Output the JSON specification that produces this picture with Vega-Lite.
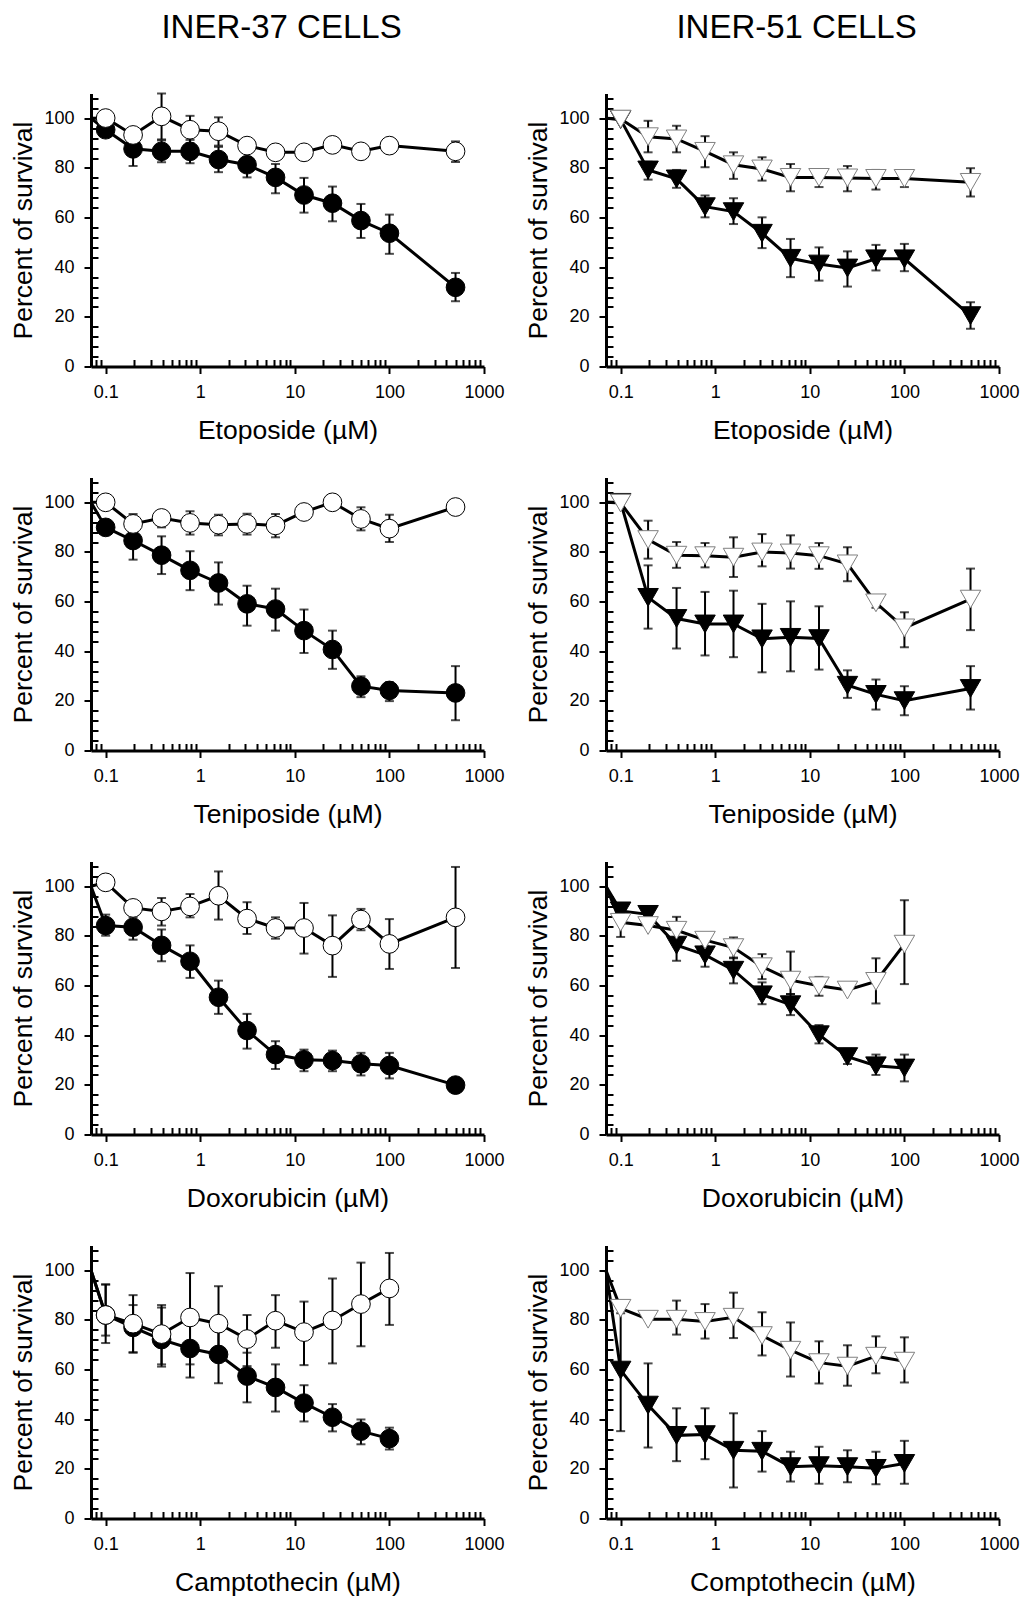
{
"$schema": "https://vega.github.io/schema/vega-lite/v6.json",
"background": "white",
"padding": {"left": 10, "top": 11.5, "right": 5, "bottom": 5},
"data": {"values": [
{"cell":"INER-37","drug":"Etoposide","series":"filled","dose":0.07,"survival":100},
{"cell":"INER-37","drug":"Etoposide","series":"filled","dose":0.1,"survival":95.4,"lo":93.5,"hi":97.3},
{"cell":"INER-37","drug":"Etoposide","series":"filled","dose":0.195,"survival":87.7,"lo":80.8,"hi":94.6},
{"cell":"INER-37","drug":"Etoposide","series":"filled","dose":0.39,"survival":86.7,"lo":82.3,"hi":91.1},
{"cell":"INER-37","drug":"Etoposide","series":"filled","dose":0.78,"survival":86.7,"lo":81.9,"hi":91.3},
{"cell":"INER-37","drug":"Etoposide","series":"filled","dose":1.56,"survival":83.4,"lo":78.3,"hi":88.5},
{"cell":"INER-37","drug":"Etoposide","series":"filled","dose":3.125,"survival":81.3,"lo":76.2,"hi":86.4},
{"cell":"INER-37","drug":"Etoposide","series":"filled","dose":6.25,"survival":76.2,"lo":69.8,"hi":81.6},
{"cell":"INER-37","drug":"Etoposide","series":"filled","dose":12.5,"survival":69.1,"lo":62,"hi":76},
{"cell":"INER-37","drug":"Etoposide","series":"filled","dose":25,"survival":65.8,"lo":58.5,"hi":72.5},
{"cell":"INER-37","drug":"Etoposide","series":"filled","dose":50,"survival":58.8,"lo":51.8,"hi":65.5},
{"cell":"INER-37","drug":"Etoposide","series":"filled","dose":100,"survival":53.7,"lo":45.4,"hi":61.2},
{"cell":"INER-37","drug":"Etoposide","series":"filled","dose":500,"survival":31.9,"lo":26.3,"hi":37.7},
{"cell":"INER-37","drug":"Etoposide","series":"open","dose":0.07,"survival":100},
{"cell":"INER-37","drug":"Etoposide","series":"open","dose":0.1,"survival":100.1,"lo":99,"hi":101},
{"cell":"INER-37","drug":"Etoposide","series":"open","dose":0.195,"survival":93.3,"lo":92,"hi":94.5},
{"cell":"INER-37","drug":"Etoposide","series":"open","dose":0.39,"survival":100.8,"lo":91.5,"hi":110},
{"cell":"INER-37","drug":"Etoposide","series":"open","dose":0.78,"survival":95.4,"lo":90,"hi":101},
{"cell":"INER-37","drug":"Etoposide","series":"open","dose":1.56,"survival":94.8,"lo":89,"hi":100.4},
{"cell":"INER-37","drug":"Etoposide","series":"open","dose":3.125,"survival":89,"lo":88,"hi":90},
{"cell":"INER-37","drug":"Etoposide","series":"open","dose":6.25,"survival":86.3,"lo":85.5,"hi":87},
{"cell":"INER-37","drug":"Etoposide","series":"open","dose":12.5,"survival":86.3,"lo":85.5,"hi":87},
{"cell":"INER-37","drug":"Etoposide","series":"open","dose":25,"survival":89.3,"lo":88.5,"hi":90},
{"cell":"INER-37","drug":"Etoposide","series":"open","dose":50,"survival":86.7,"lo":86,"hi":87.5},
{"cell":"INER-37","drug":"Etoposide","series":"open","dose":100,"survival":89,"lo":88,"hi":90},
{"cell":"INER-37","drug":"Etoposide","series":"open","dose":500,"survival":86.7,"lo":82.4,"hi":90.7},

{"cell":"INER-51","drug":"Etoposide","series":"filled","dose":0.07,"survival":100},
{"cell":"INER-51","drug":"Etoposide","series":"filled","dose":0.1,"survival":99.5},
{"cell":"INER-51","drug":"Etoposide","series":"filled","dose":0.195,"survival":79.2,"lo":75.3,"hi":82.5},
{"cell":"INER-51","drug":"Etoposide","series":"filled","dose":0.39,"survival":75.6,"lo":72,"hi":79.2},
{"cell":"INER-51","drug":"Etoposide","series":"filled","dose":0.78,"survival":64.4,"lo":60.1,"hi":68.9},
{"cell":"INER-51","drug":"Etoposide","series":"filled","dose":1.56,"survival":62.4,"lo":57.4,"hi":67.8},
{"cell":"INER-51","drug":"Etoposide","series":"filled","dose":3.125,"survival":53.7,"lo":47.7,"hi":60.1},
{"cell":"INER-51","drug":"Etoposide","series":"filled","dose":6.25,"survival":43.6,"lo":36,"hi":51.4},
{"cell":"INER-51","drug":"Etoposide","series":"filled","dose":12.5,"survival":41.3,"lo":34.6,"hi":48},
{"cell":"INER-51","drug":"Etoposide","series":"filled","dose":25,"survival":39.7,"lo":32.2,"hi":46.4},
{"cell":"INER-51","drug":"Etoposide","series":"filled","dose":50,"survival":43.4,"lo":38.7,"hi":49},
{"cell":"INER-51","drug":"Etoposide","series":"filled","dose":100,"survival":43.4,"lo":38.4,"hi":49.4},
{"cell":"INER-51","drug":"Etoposide","series":"filled","dose":500,"survival":20.5,"lo":15.2,"hi":25.9},
{"cell":"INER-51","drug":"Etoposide","series":"open","dose":0.07,"survival":100},
{"cell":"INER-51","drug":"Etoposide","series":"open","dose":0.1,"survival":99.7},
{"cell":"INER-51","drug":"Etoposide","series":"open","dose":0.195,"survival":92.6,"lo":86.3,"hi":99},
{"cell":"INER-51","drug":"Etoposide","series":"open","dose":0.39,"survival":91.7,"lo":86.3,"hi":97},
{"cell":"INER-51","drug":"Etoposide","series":"open","dose":0.78,"survival":86.7,"lo":80.3,"hi":92.8},
{"cell":"INER-51","drug":"Etoposide","series":"open","dose":1.56,"survival":81.3,"lo":75.6,"hi":86.3},
{"cell":"INER-51","drug":"Etoposide","series":"open","dose":3.125,"survival":79.6,"lo":74.9,"hi":84.3},
{"cell":"INER-51","drug":"Etoposide","series":"open","dose":6.25,"survival":76.2,"lo":70.6,"hi":81.6},
{"cell":"INER-51","drug":"Etoposide","series":"open","dose":12.5,"survival":76.2,"lo":72.3,"hi":79.5},
{"cell":"INER-51","drug":"Etoposide","series":"open","dose":25,"survival":76,"lo":70.6,"hi":80.8},
{"cell":"INER-51","drug":"Etoposide","series":"open","dose":50,"survival":75.8,"lo":71.3,"hi":79.2},
{"cell":"INER-51","drug":"Etoposide","series":"open","dose":100,"survival":75.8,"lo":72.3,"hi":78.1},
{"cell":"INER-51","drug":"Etoposide","series":"open","dose":500,"survival":74.2,"lo":68.5,"hi":79.9},

{"cell":"INER-37","drug":"Teniposide","series":"filled","dose":0.07,"survival":100},
{"cell":"INER-37","drug":"Teniposide","series":"filled","dose":0.1,"survival":89.9,"lo":88,"hi":92},
{"cell":"INER-37","drug":"Teniposide","series":"filled","dose":0.195,"survival":84.6,"lo":76.9,"hi":92},
{"cell":"INER-37","drug":"Teniposide","series":"filled","dose":0.39,"survival":78.7,"lo":71.1,"hi":86.3},
{"cell":"INER-37","drug":"Teniposide","series":"filled","dose":0.78,"survival":72.6,"lo":64.6,"hi":80.3},
{"cell":"INER-37","drug":"Teniposide","series":"filled","dose":1.56,"survival":67.5,"lo":58.8,"hi":75.8},
{"cell":"INER-37","drug":"Teniposide","series":"filled","dose":3.125,"survival":59.1,"lo":50.3,"hi":66.4},
{"cell":"INER-37","drug":"Teniposide","series":"filled","dose":6.25,"survival":57,"lo":48.3,"hi":65.2},
{"cell":"INER-37","drug":"Teniposide","series":"filled","dose":12.5,"survival":48.3,"lo":39.3,"hi":56.8},
{"cell":"INER-37","drug":"Teniposide","series":"filled","dose":25,"survival":40.7,"lo":32.9,"hi":48.3},
{"cell":"INER-37","drug":"Teniposide","series":"filled","dose":50,"survival":25.9,"lo":21.5,"hi":29.9},
{"cell":"INER-37","drug":"Teniposide","series":"filled","dose":100,"survival":24.2,"lo":19.9,"hi":27.5},
{"cell":"INER-37","drug":"Teniposide","series":"filled","dose":500,"survival":23.2,"lo":12.2,"hi":34},
{"cell":"INER-37","drug":"Teniposide","series":"open","dose":0.07,"survival":100},
{"cell":"INER-37","drug":"Teniposide","series":"open","dose":0.1,"survival":100},
{"cell":"INER-37","drug":"Teniposide","series":"open","dose":0.195,"survival":91.3,"lo":87,"hi":95.3},
{"cell":"INER-37","drug":"Teniposide","series":"open","dose":0.39,"survival":93.7,"lo":89.9,"hi":96.4},
{"cell":"INER-37","drug":"Teniposide","series":"open","dose":0.78,"survival":91.7,"lo":87,"hi":96.4},
{"cell":"INER-37","drug":"Teniposide","series":"open","dose":1.56,"survival":91,"lo":86.7,"hi":95},
{"cell":"INER-37","drug":"Teniposide","series":"open","dose":3.125,"survival":91.3,"lo":87,"hi":95.4},
{"cell":"INER-37","drug":"Teniposide","series":"open","dose":6.25,"survival":90.7,"lo":85.9,"hi":95.3},
{"cell":"INER-37","drug":"Teniposide","series":"open","dose":12.5,"survival":96.1},
{"cell":"INER-37","drug":"Teniposide","series":"open","dose":25,"survival":100},
{"cell":"INER-37","drug":"Teniposide","series":"open","dose":50,"survival":93.3,"lo":88.7,"hi":98},
{"cell":"INER-37","drug":"Teniposide","series":"open","dose":100,"survival":89.4,"lo":84,"hi":95},
{"cell":"INER-37","drug":"Teniposide","series":"open","dose":500,"survival":98.1},

{"cell":"INER-51","drug":"Teniposide","series":"filled","dose":0.07,"survival":100},
{"cell":"INER-51","drug":"Teniposide","series":"filled","dose":0.1,"survival":100},
{"cell":"INER-51","drug":"Teniposide","series":"filled","dose":0.195,"survival":61.7,"lo":49.1,"hi":74.6},
{"cell":"INER-51","drug":"Teniposide","series":"filled","dose":0.39,"survival":53.2,"lo":41.1,"hi":65.5},
{"cell":"INER-51","drug":"Teniposide","series":"filled","dose":0.78,"survival":51,"lo":38.3,"hi":63.9},
{"cell":"INER-51","drug":"Teniposide","series":"filled","dose":1.56,"survival":51,"lo":37.6,"hi":64.4},
{"cell":"INER-51","drug":"Teniposide","series":"filled","dose":3.125,"survival":45,"lo":31.5,"hi":59.1},
{"cell":"INER-51","drug":"Teniposide","series":"filled","dose":6.25,"survival":45.6,"lo":31.9,"hi":60.1},
{"cell":"INER-51","drug":"Teniposide","series":"filled","dose":12.5,"survival":45.1,"lo":32.6,"hi":58.1},
{"cell":"INER-51","drug":"Teniposide","series":"filled","dose":25,"survival":26.3,"lo":21.2,"hi":32.3},
{"cell":"INER-51","drug":"Teniposide","series":"filled","dose":50,"survival":22.6,"lo":16.5,"hi":28.6},
{"cell":"INER-51","drug":"Teniposide","series":"filled","dose":100,"survival":20.1,"lo":14.2,"hi":25.9},
{"cell":"INER-51","drug":"Teniposide","series":"filled","dose":500,"survival":25,"lo":16.5,"hi":34},
{"cell":"INER-51","drug":"Teniposide","series":"open","dose":0.07,"survival":100},
{"cell":"INER-51","drug":"Teniposide","series":"open","dose":0.1,"survival":99.7},
{"cell":"INER-51","drug":"Teniposide","series":"open","dose":0.195,"survival":85,"lo":77.3,"hi":92.6},
{"cell":"INER-51","drug":"Teniposide","series":"open","dose":0.39,"survival":78.7,"lo":73.6,"hi":84},
{"cell":"INER-51","drug":"Teniposide","series":"open","dose":0.78,"survival":78.5,"lo":73.8,"hi":83.6},
{"cell":"INER-51","drug":"Teniposide","series":"open","dose":1.56,"survival":77.9,"lo":69.9,"hi":85.9},
{"cell":"INER-51","drug":"Teniposide","series":"open","dose":3.125,"survival":80,"lo":74.2,"hi":87.2},
{"cell":"INER-51","drug":"Teniposide","series":"open","dose":6.25,"survival":79.6,"lo":73.3,"hi":86.7},
{"cell":"INER-51","drug":"Teniposide","series":"open","dose":12.5,"survival":78.5,"lo":73.2,"hi":83.6},
{"cell":"INER-51","drug":"Teniposide","series":"open","dose":25,"survival":75.2,"lo":68.2,"hi":81.9},
{"cell":"INER-51","drug":"Teniposide","series":"open","dose":50,"survival":59.5,"lo":57.5,"hi":61.7},
{"cell":"INER-51","drug":"Teniposide","series":"open","dose":100,"survival":49.4,"lo":41.6,"hi":55.7},
{"cell":"INER-51","drug":"Teniposide","series":"open","dose":500,"survival":61,"lo":48.5,"hi":73.3},

{"cell":"INER-37","drug":"Doxorubicin","series":"filled","dose":0.07,"survival":100},
{"cell":"INER-37","drug":"Doxorubicin","series":"filled","dose":0.1,"survival":84.2,"lo":80.1,"hi":88.6},
{"cell":"INER-37","drug":"Doxorubicin","series":"filled","dose":0.195,"survival":83.5,"lo":78.5,"hi":87.5},
{"cell":"INER-37","drug":"Doxorubicin","series":"filled","dose":0.39,"survival":76.2,"lo":69.8,"hi":82.6},
{"cell":"INER-37","drug":"Doxorubicin","series":"filled","dose":0.78,"survival":69.8,"lo":63.1,"hi":76.2},
{"cell":"INER-37","drug":"Doxorubicin","series":"filled","dose":1.56,"survival":55.3,"lo":48.6,"hi":62},
{"cell":"INER-37","drug":"Doxorubicin","series":"filled","dose":3.125,"survival":41.9,"lo":34.6,"hi":48.6},
{"cell":"INER-37","drug":"Doxorubicin","series":"filled","dose":6.25,"survival":32.2,"lo":26.4,"hi":37.6},
{"cell":"INER-37","drug":"Doxorubicin","series":"filled","dose":12.5,"survival":30.1,"lo":25.5,"hi":34.2},
{"cell":"INER-37","drug":"Doxorubicin","series":"filled","dose":25,"survival":29.8,"lo":25.5,"hi":33.8},
{"cell":"INER-37","drug":"Doxorubicin","series":"filled","dose":50,"survival":28.5,"lo":23.8,"hi":32.9},
{"cell":"INER-37","drug":"Doxorubicin","series":"filled","dose":100,"survival":27.8,"lo":22.6,"hi":32.9},
{"cell":"INER-37","drug":"Doxorubicin","series":"filled","dose":500,"survival":19.9},
{"cell":"INER-37","drug":"Doxorubicin","series":"open","dose":0.07,"survival":100},
{"cell":"INER-37","drug":"Doxorubicin","series":"open","dose":0.1,"survival":101.6},
{"cell":"INER-37","drug":"Doxorubicin","series":"open","dose":0.195,"survival":91.3},
{"cell":"INER-37","drug":"Doxorubicin","series":"open","dose":0.39,"survival":89.9,"lo":84.2,"hi":95.3},
{"cell":"INER-37","drug":"Doxorubicin","series":"open","dose":0.78,"survival":91.9,"lo":87.5,"hi":96.9},
{"cell":"INER-37","drug":"Doxorubicin","series":"open","dose":1.56,"survival":96.2,"lo":86.6,"hi":106},
{"cell":"INER-37","drug":"Doxorubicin","series":"open","dose":3.125,"survival":87,"lo":80.8,"hi":93.6},
{"cell":"INER-37","drug":"Doxorubicin","series":"open","dose":6.25,"survival":83.2,"lo":78.9,"hi":87.5},
{"cell":"INER-37","drug":"Doxorubicin","series":"open","dose":12.5,"survival":83.2,"lo":72.9,"hi":93.3},
{"cell":"INER-37","drug":"Doxorubicin","series":"open","dose":25,"survival":76.1,"lo":63.5,"hi":88.3},
{"cell":"INER-37","drug":"Doxorubicin","series":"open","dose":50,"survival":86.6,"lo":82.3,"hi":90.9},
{"cell":"INER-37","drug":"Doxorubicin","series":"open","dose":100,"survival":76.8,"lo":66.7,"hi":86.8},
{"cell":"INER-37","drug":"Doxorubicin","series":"open","dose":500,"survival":87.5,"lo":67.1,"hi":107.8},

{"cell":"INER-51","drug":"Doxorubicin","series":"filled","dose":0.07,"survival":100},
{"cell":"INER-51","drug":"Doxorubicin","series":"filled","dose":0.1,"survival":90.1,"lo":88.5,"hi":91.7},
{"cell":"INER-51","drug":"Doxorubicin","series":"filled","dose":0.195,"survival":88.7,"lo":86,"hi":91.4},
{"cell":"INER-51","drug":"Doxorubicin","series":"filled","dose":0.39,"survival":76.3,"lo":70,"hi":83.4},
{"cell":"INER-51","drug":"Doxorubicin","series":"filled","dose":0.78,"survival":72.4,"lo":67.6,"hi":76},
{"cell":"INER-51","drug":"Doxorubicin","series":"filled","dose":1.56,"survival":66.2,"lo":60.9,"hi":71.3},
{"cell":"INER-51","drug":"Doxorubicin","series":"filled","dose":3.125,"survival":56.3,"lo":52.5,"hi":61.3},
{"cell":"INER-51","drug":"Doxorubicin","series":"filled","dose":6.25,"survival":52.3,"lo":48.1,"hi":56.6},
{"cell":"INER-51","drug":"Doxorubicin","series":"filled","dose":12.5,"survival":40.2,"lo":36.7,"hi":44.1},
{"cell":"INER-51","drug":"Doxorubicin","series":"filled","dose":25,"survival":31.4,"lo":28.4,"hi":34.5},
{"cell":"INER-51","drug":"Doxorubicin","series":"filled","dose":50,"survival":27.7,"lo":24,"hi":32.2},
{"cell":"INER-51","drug":"Doxorubicin","series":"filled","dose":100,"survival":26.8,"lo":21.4,"hi":32.2},
{"cell":"INER-51","drug":"Doxorubicin","series":"open","dose":0.07,"survival":100},
{"cell":"INER-51","drug":"Doxorubicin","series":"open","dose":0.1,"survival":85.5,"lo":79.6,"hi":91},
{"cell":"INER-51","drug":"Doxorubicin","series":"open","dose":0.195,"survival":84.2},
{"cell":"INER-51","drug":"Doxorubicin","series":"open","dose":0.39,"survival":82.3,"lo":77,"hi":87.7},
{"cell":"INER-51","drug":"Doxorubicin","series":"open","dose":0.78,"survival":78.3},
{"cell":"INER-51","drug":"Doxorubicin","series":"open","dose":1.56,"survival":75.3,"lo":71,"hi":79.4},
{"cell":"INER-51","drug":"Doxorubicin","series":"open","dose":3.125,"survival":67.6,"lo":62.6,"hi":72.7},
{"cell":"INER-51","drug":"Doxorubicin","series":"open","dose":6.25,"survival":62.2,"lo":56.6,"hi":73.7},
{"cell":"INER-51","drug":"Doxorubicin","series":"open","dose":12.5,"survival":59.9,"lo":55.9,"hi":63.5},
{"cell":"INER-51","drug":"Doxorubicin","series":"open","dose":25,"survival":58.2},
{"cell":"INER-51","drug":"Doxorubicin","series":"open","dose":50,"survival":61.7,"lo":52.8,"hi":71},
{"cell":"INER-51","drug":"Doxorubicin","series":"open","dose":100,"survival":76.7,"lo":60.6,"hi":94.4},

{"cell":"INER-37","drug":"Camptothecin","series":"filled","dose":0.07,"survival":100},
{"cell":"INER-37","drug":"Camptothecin","series":"filled","dose":0.1,"survival":82,"lo":70.7,"hi":94.3},
{"cell":"INER-37","drug":"Camptothecin","series":"filled","dose":0.195,"survival":77,"lo":67,"hi":86},
{"cell":"INER-37","drug":"Camptothecin","series":"filled","dose":0.39,"survival":72.1,"lo":61.2,"hi":85},
{"cell":"INER-37","drug":"Camptothecin","series":"filled","dose":0.78,"survival":68.5,"lo":56.8,"hi":80},
{"cell":"INER-37","drug":"Camptothecin","series":"filled","dose":1.56,"survival":66.1,"lo":54.5,"hi":76},
{"cell":"INER-37","drug":"Camptothecin","series":"filled","dose":3.125,"survival":57.4,"lo":46.8,"hi":66.8},
{"cell":"INER-37","drug":"Camptothecin","series":"filled","dose":6.25,"survival":52.8,"lo":43.1,"hi":62.1},
{"cell":"INER-37","drug":"Camptothecin","series":"filled","dose":12.5,"survival":46.5,"lo":39.1,"hi":53.7},
{"cell":"INER-37","drug":"Camptothecin","series":"filled","dose":25,"survival":40.8,"lo":35.1,"hi":46.1},
{"cell":"INER-37","drug":"Camptothecin","series":"filled","dose":50,"survival":35.2,"lo":29.9,"hi":39.9},
{"cell":"INER-37","drug":"Camptothecin","series":"filled","dose":100,"survival":32.2,"lo":27.8,"hi":36.6},
{"cell":"INER-37","drug":"Camptothecin","series":"open","dose":0.07,"survival":100},
{"cell":"INER-37","drug":"Camptothecin","series":"open","dose":0.1,"survival":82,"lo":73.7,"hi":94.3},
{"cell":"INER-37","drug":"Camptothecin","series":"open","dose":0.195,"survival":78.5,"lo":66.8,"hi":90},
{"cell":"INER-37","drug":"Camptothecin","series":"open","dose":0.39,"survival":74.3,"lo":62.1,"hi":86},
{"cell":"INER-37","drug":"Camptothecin","series":"open","dose":0.78,"survival":81,"lo":62.1,"hi":98.9},
{"cell":"INER-37","drug":"Camptothecin","series":"open","dose":1.56,"survival":78.5,"lo":63.4,"hi":93.6},
{"cell":"INER-37","drug":"Camptothecin","series":"open","dose":3.125,"survival":72.3,"lo":61.4,"hi":82},
{"cell":"INER-37","drug":"Camptothecin","series":"open","dose":6.25,"survival":79.7,"lo":68.8,"hi":90},
{"cell":"INER-37","drug":"Camptothecin","series":"open","dose":12.5,"survival":75.1,"lo":61.8,"hi":87.4},
{"cell":"INER-37","drug":"Camptothecin","series":"open","dose":25,"survival":79.8,"lo":62.5,"hi":96.7},
{"cell":"INER-37","drug":"Camptothecin","series":"open","dose":50,"survival":86.4,"lo":69.4,"hi":103.1},
{"cell":"INER-37","drug":"Camptothecin","series":"open","dose":100,"survival":92.7,"lo":78,"hi":107},

{"cell":"INER-51","drug":"Comptothecin","series":"filled","dose":0.07,"survival":100},
{"cell":"INER-51","drug":"Comptothecin","series":"filled","dose":0.1,"survival":59.8,"lo":35.2,"hi":84.4},
{"cell":"INER-51","drug":"Comptothecin","series":"filled","dose":0.195,"survival":45.7,"lo":28.6,"hi":62.5},
{"cell":"INER-51","drug":"Comptothecin","series":"filled","dose":0.39,"survival":33.5,"lo":23.1,"hi":44.4},
{"cell":"INER-51","drug":"Comptothecin","series":"filled","dose":0.78,"survival":33.8,"lo":23.9,"hi":44.4},
{"cell":"INER-51","drug":"Comptothecin","series":"filled","dose":1.56,"survival":27.5,"lo":12.5,"hi":42.4},
{"cell":"INER-51","drug":"Comptothecin","series":"filled","dose":3.125,"survival":27.1,"lo":18.9,"hi":35.2},
{"cell":"INER-51","drug":"Comptothecin","series":"filled","dose":6.25,"survival":20.9,"lo":14.9,"hi":26.9},
{"cell":"INER-51","drug":"Comptothecin","series":"filled","dose":12.5,"survival":21.3,"lo":14,"hi":28.9},
{"cell":"INER-51","drug":"Comptothecin","series":"filled","dose":25,"survival":20.9,"lo":14.6,"hi":27.5},
{"cell":"INER-51","drug":"Comptothecin","series":"filled","dose":50,"survival":20.2,"lo":13.8,"hi":26.9},
{"cell":"INER-51","drug":"Comptothecin","series":"filled","dose":100,"survival":22.2,"lo":14,"hi":31.3},
{"cell":"INER-51","drug":"Comptothecin","series":"open","dose":0.07,"survival":100},
{"cell":"INER-51","drug":"Comptothecin","series":"open","dose":0.1,"survival":84.7,"lo":82.7,"hi":86.7},
{"cell":"INER-51","drug":"Comptothecin","series":"open","dose":0.195,"survival":80.3},
{"cell":"INER-51","drug":"Comptothecin","series":"open","dose":0.39,"survival":80.3,"lo":74.1,"hi":87.8},
{"cell":"INER-51","drug":"Comptothecin","series":"open","dose":0.78,"survival":79.4,"lo":72.5,"hi":86.4},
{"cell":"INER-51","drug":"Comptothecin","series":"open","dose":1.56,"survival":81.1,"lo":72.7,"hi":91},
{"cell":"INER-51","drug":"Comptothecin","series":"open","dose":3.125,"survival":73.7,"lo":65.7,"hi":83.1},
{"cell":"INER-51","drug":"Comptothecin","series":"open","dose":6.25,"survival":67.8,"lo":57.2,"hi":79},
{"cell":"INER-51","drug":"Comptothecin","series":"open","dose":12.5,"survival":62.8,"lo":54.4,"hi":71.4},
{"cell":"INER-51","drug":"Comptothecin","series":"open","dose":25,"survival":61.4,"lo":53.5,"hi":69.8},
{"cell":"INER-51","drug":"Comptothecin","series":"open","dose":50,"survival":65.4,"lo":58.5,"hi":73.4},
{"cell":"INER-51","drug":"Comptothecin","series":"open","dose":100,"survival":63.4,"lo":54.8,"hi":73}
]},
"columns": 2,
"spacing": {"row": 28, "column": 20},
"resolve": {"scale": {"x": "independent", "y": "independent", "fill": "independent", "stroke": "independent"}},
"concat": [
{"width": 393, "height": 273,
 "title": {"text": "INER-37 CELLS", "dx": -6},
 "transform": [{"filter": "datum.cell == 'INER-37' && datum.drug == 'Etoposide'"}],
 "encoding": {
  "x": {"field": "dose", "type": "quantitative", "scale": {"type": "log", "domain": [0.07, 1000], "nice": false},
   "axis": {"title": "Etoposide (µM)", "values": [0.08,0.09,0.1,0.2,0.3,0.4,0.5,0.6,0.7,0.8,0.9,1,2,3,4,5,6,7,8,9,10,20,30,40,50,60,70,80,90,100,200,300,400,500,600,700,800,900,1000], "labelExpr": "abs(log(datum.value)/LN10 - round(log(datum.value)/LN10)) < 0.001 ? toString(datum.value) : ''", "tickSize": {"condition": {"test": "abs(log(datum.value)/LN10 - round(log(datum.value)/LN10)) < 0.001", "value": 7}, "value": -7}}},
  "y": {"field": "survival", "type": "quantitative", "scale": {"domain": [0, 110], "nice": false},
   "axis": {"title": "Percent of survival", "values": [0,4,8,12,16,20,24,28,32,36,40,44,48,52,56,60,64,68,72,76,80,84,88,92,96,100,104,108], "labelExpr": "datum.value % 20 == 0 ? datum.label : ''", "tickSize": {"condition": {"test": "datum.value % 20 == 0", "value": 7}, "value": -7}}}},
 "layer": [
  {"mark": {"type": "line", "color": "black", "strokeWidth": 3}, "encoding": {"detail": {"field": "series"}}},
  {"transform": [{"filter": "isValid(datum.lo)"}],
   "mark": {"type": "errorbar", "color": "black", "thickness": 2, "ticks": {"size": 9, "thickness": 2}},
   "encoding": {"y": {"field": "lo", "type": "quantitative", "scale": {"domain": [0, 110], "nice": false},
     "axis": {"title": "Percent of survival", "values": [0,4,8,12,16,20,24,28,32,36,40,44,48,52,56,60,64,68,72,76,80,84,88,92,96,100,104,108], "labelExpr": "datum.value % 20 == 0 ? datum.label : ''", "tickSize": {"condition": {"test": "datum.value % 20 == 0", "value": 7}, "value": -7}}},
     "y2": {"field": "hi"}}},
  {"transform": [{"filter": "datum.dose >= 0.1"}], "mark": {"type": "point", "shape": "circle", "size": 350, "filled": true, "opacity": 1, "strokeWidth": 1},
   "encoding": {
     "fill": {"field": "series", "type": "nominal", "scale": {"domain": ["filled", "open"], "range": ["#000000", "#ffffff"]}, "legend": null},
     "stroke": {"field": "series", "type": "nominal", "scale": {"domain": ["filled", "open"], "range": ["#000000", "#000000"]}, "legend": null}}}
 ]},
{"width": 393, "height": 273,
 "title": {"text": "INER-51 CELLS", "dx": -6},
 "transform": [{"filter": "datum.cell == 'INER-51' && datum.drug == 'Etoposide'"}],
 "encoding": {
  "x": {"field": "dose", "type": "quantitative", "scale": {"type": "log", "domain": [0.07, 1000], "nice": false},
   "axis": {"title": "Etoposide (µM)", "values": [0.08,0.09,0.1,0.2,0.3,0.4,0.5,0.6,0.7,0.8,0.9,1,2,3,4,5,6,7,8,9,10,20,30,40,50,60,70,80,90,100,200,300,400,500,600,700,800,900,1000], "labelExpr": "abs(log(datum.value)/LN10 - round(log(datum.value)/LN10)) < 0.001 ? toString(datum.value) : ''", "tickSize": {"condition": {"test": "abs(log(datum.value)/LN10 - round(log(datum.value)/LN10)) < 0.001", "value": 7}, "value": -7}}},
  "y": {"field": "survival", "type": "quantitative", "scale": {"domain": [0, 110], "nice": false},
   "axis": {"title": "Percent of survival", "values": [0,4,8,12,16,20,24,28,32,36,40,44,48,52,56,60,64,68,72,76,80,84,88,92,96,100,104,108], "labelExpr": "datum.value % 20 == 0 ? datum.label : ''", "tickSize": {"condition": {"test": "datum.value % 20 == 0", "value": 7}, "value": -7}}}},
 "layer": [
  {"mark": {"type": "line", "color": "black", "strokeWidth": 3}, "encoding": {"detail": {"field": "series"}}},
  {"transform": [{"filter": "isValid(datum.lo)"}],
   "mark": {"type": "errorbar", "color": "black", "thickness": 2, "ticks": {"size": 9, "thickness": 2}},
   "encoding": {"y": {"field": "lo", "type": "quantitative", "scale": {"domain": [0, 110], "nice": false},
     "axis": {"title": "Percent of survival", "values": [0,4,8,12,16,20,24,28,32,36,40,44,48,52,56,60,64,68,72,76,80,84,88,92,96,100,104,108], "labelExpr": "datum.value % 20 == 0 ? datum.label : ''", "tickSize": {"condition": {"test": "datum.value % 20 == 0", "value": 7}, "value": -7}}},
     "y2": {"field": "hi"}}},
  {"transform": [{"filter": "datum.dose >= 0.1"}], "mark": {"type": "point", "shape": "triangle-down", "size": 420, "filled": true, "opacity": 1, "strokeWidth": 1},
   "encoding": {
     "fill": {"field": "series", "type": "nominal", "scale": {"domain": ["filled", "open"], "range": ["#000000", "#ffffff"]}, "legend": null},
     "stroke": {"field": "series", "type": "nominal", "scale": {"domain": ["filled", "open"], "range": ["#000000", "#808080"]}, "legend": null}}}
 ]},
{"width": 393, "height": 273,
 "transform": [{"filter": "datum.cell == 'INER-37' && datum.drug == 'Teniposide'"}],
 "encoding": {
  "x": {"field": "dose", "type": "quantitative", "scale": {"type": "log", "domain": [0.07, 1000], "nice": false},
   "axis": {"title": "Teniposide (µM)", "values": [0.08,0.09,0.1,0.2,0.3,0.4,0.5,0.6,0.7,0.8,0.9,1,2,3,4,5,6,7,8,9,10,20,30,40,50,60,70,80,90,100,200,300,400,500,600,700,800,900,1000], "labelExpr": "abs(log(datum.value)/LN10 - round(log(datum.value)/LN10)) < 0.001 ? toString(datum.value) : ''", "tickSize": {"condition": {"test": "abs(log(datum.value)/LN10 - round(log(datum.value)/LN10)) < 0.001", "value": 7}, "value": -7}}},
  "y": {"field": "survival", "type": "quantitative", "scale": {"domain": [0, 110], "nice": false},
   "axis": {"title": "Percent of survival", "values": [0,4,8,12,16,20,24,28,32,36,40,44,48,52,56,60,64,68,72,76,80,84,88,92,96,100,104,108], "labelExpr": "datum.value % 20 == 0 ? datum.label : ''", "tickSize": {"condition": {"test": "datum.value % 20 == 0", "value": 7}, "value": -7}}}},
 "layer": [
  {"mark": {"type": "line", "color": "black", "strokeWidth": 3}, "encoding": {"detail": {"field": "series"}}},
  {"transform": [{"filter": "isValid(datum.lo)"}],
   "mark": {"type": "errorbar", "color": "black", "thickness": 2, "ticks": {"size": 9, "thickness": 2}},
   "encoding": {"y": {"field": "lo", "type": "quantitative", "scale": {"domain": [0, 110], "nice": false},
     "axis": {"title": "Percent of survival", "values": [0,4,8,12,16,20,24,28,32,36,40,44,48,52,56,60,64,68,72,76,80,84,88,92,96,100,104,108], "labelExpr": "datum.value % 20 == 0 ? datum.label : ''", "tickSize": {"condition": {"test": "datum.value % 20 == 0", "value": 7}, "value": -7}}},
     "y2": {"field": "hi"}}},
  {"transform": [{"filter": "datum.dose >= 0.1"}], "mark": {"type": "point", "shape": "circle", "size": 350, "filled": true, "opacity": 1, "strokeWidth": 1},
   "encoding": {
     "fill": {"field": "series", "type": "nominal", "scale": {"domain": ["filled", "open"], "range": ["#000000", "#ffffff"]}, "legend": null},
     "stroke": {"field": "series", "type": "nominal", "scale": {"domain": ["filled", "open"], "range": ["#000000", "#000000"]}, "legend": null}}}
 ]},
{"width": 393, "height": 273,
 "transform": [{"filter": "datum.cell == 'INER-51' && datum.drug == 'Teniposide'"}],
 "encoding": {
  "x": {"field": "dose", "type": "quantitative", "scale": {"type": "log", "domain": [0.07, 1000], "nice": false},
   "axis": {"title": "Teniposide (µM)", "values": [0.08,0.09,0.1,0.2,0.3,0.4,0.5,0.6,0.7,0.8,0.9,1,2,3,4,5,6,7,8,9,10,20,30,40,50,60,70,80,90,100,200,300,400,500,600,700,800,900,1000], "labelExpr": "abs(log(datum.value)/LN10 - round(log(datum.value)/LN10)) < 0.001 ? toString(datum.value) : ''", "tickSize": {"condition": {"test": "abs(log(datum.value)/LN10 - round(log(datum.value)/LN10)) < 0.001", "value": 7}, "value": -7}}},
  "y": {"field": "survival", "type": "quantitative", "scale": {"domain": [0, 110], "nice": false},
   "axis": {"title": "Percent of survival", "values": [0,4,8,12,16,20,24,28,32,36,40,44,48,52,56,60,64,68,72,76,80,84,88,92,96,100,104,108], "labelExpr": "datum.value % 20 == 0 ? datum.label : ''", "tickSize": {"condition": {"test": "datum.value % 20 == 0", "value": 7}, "value": -7}}}},
 "layer": [
  {"mark": {"type": "line", "color": "black", "strokeWidth": 3}, "encoding": {"detail": {"field": "series"}}},
  {"transform": [{"filter": "isValid(datum.lo)"}],
   "mark": {"type": "errorbar", "color": "black", "thickness": 2, "ticks": {"size": 9, "thickness": 2}},
   "encoding": {"y": {"field": "lo", "type": "quantitative", "scale": {"domain": [0, 110], "nice": false},
     "axis": {"title": "Percent of survival", "values": [0,4,8,12,16,20,24,28,32,36,40,44,48,52,56,60,64,68,72,76,80,84,88,92,96,100,104,108], "labelExpr": "datum.value % 20 == 0 ? datum.label : ''", "tickSize": {"condition": {"test": "datum.value % 20 == 0", "value": 7}, "value": -7}}},
     "y2": {"field": "hi"}}},
  {"transform": [{"filter": "datum.dose >= 0.1"}], "mark": {"type": "point", "shape": "triangle-down", "size": 420, "filled": true, "opacity": 1, "strokeWidth": 1},
   "encoding": {
     "fill": {"field": "series", "type": "nominal", "scale": {"domain": ["filled", "open"], "range": ["#000000", "#ffffff"]}, "legend": null},
     "stroke": {"field": "series", "type": "nominal", "scale": {"domain": ["filled", "open"], "range": ["#000000", "#808080"]}, "legend": null}}}
 ]},
{"width": 393, "height": 273,
 "transform": [{"filter": "datum.cell == 'INER-37' && datum.drug == 'Doxorubicin'"}],
 "encoding": {
  "x": {"field": "dose", "type": "quantitative", "scale": {"type": "log", "domain": [0.07, 1000], "nice": false},
   "axis": {"title": "Doxorubicin (µM)", "values": [0.08,0.09,0.1,0.2,0.3,0.4,0.5,0.6,0.7,0.8,0.9,1,2,3,4,5,6,7,8,9,10,20,30,40,50,60,70,80,90,100,200,300,400,500,600,700,800,900,1000], "labelExpr": "abs(log(datum.value)/LN10 - round(log(datum.value)/LN10)) < 0.001 ? toString(datum.value) : ''", "tickSize": {"condition": {"test": "abs(log(datum.value)/LN10 - round(log(datum.value)/LN10)) < 0.001", "value": 7}, "value": -7}}},
  "y": {"field": "survival", "type": "quantitative", "scale": {"domain": [0, 110], "nice": false},
   "axis": {"title": "Percent of survival", "values": [0,4,8,12,16,20,24,28,32,36,40,44,48,52,56,60,64,68,72,76,80,84,88,92,96,100,104,108], "labelExpr": "datum.value % 20 == 0 ? datum.label : ''", "tickSize": {"condition": {"test": "datum.value % 20 == 0", "value": 7}, "value": -7}}}},
 "layer": [
  {"mark": {"type": "line", "color": "black", "strokeWidth": 3}, "encoding": {"detail": {"field": "series"}}},
  {"transform": [{"filter": "isValid(datum.lo)"}],
   "mark": {"type": "errorbar", "color": "black", "thickness": 2, "ticks": {"size": 9, "thickness": 2}},
   "encoding": {"y": {"field": "lo", "type": "quantitative", "scale": {"domain": [0, 110], "nice": false},
     "axis": {"title": "Percent of survival", "values": [0,4,8,12,16,20,24,28,32,36,40,44,48,52,56,60,64,68,72,76,80,84,88,92,96,100,104,108], "labelExpr": "datum.value % 20 == 0 ? datum.label : ''", "tickSize": {"condition": {"test": "datum.value % 20 == 0", "value": 7}, "value": -7}}},
     "y2": {"field": "hi"}}},
  {"transform": [{"filter": "datum.dose >= 0.1"}], "mark": {"type": "point", "shape": "circle", "size": 350, "filled": true, "opacity": 1, "strokeWidth": 1},
   "encoding": {
     "fill": {"field": "series", "type": "nominal", "scale": {"domain": ["filled", "open"], "range": ["#000000", "#ffffff"]}, "legend": null},
     "stroke": {"field": "series", "type": "nominal", "scale": {"domain": ["filled", "open"], "range": ["#000000", "#000000"]}, "legend": null}}}
 ]},
{"width": 393, "height": 273,
 "transform": [{"filter": "datum.cell == 'INER-51' && datum.drug == 'Doxorubicin'"}],
 "encoding": {
  "x": {"field": "dose", "type": "quantitative", "scale": {"type": "log", "domain": [0.07, 1000], "nice": false},
   "axis": {"title": "Doxorubicin (µM)", "values": [0.08,0.09,0.1,0.2,0.3,0.4,0.5,0.6,0.7,0.8,0.9,1,2,3,4,5,6,7,8,9,10,20,30,40,50,60,70,80,90,100,200,300,400,500,600,700,800,900,1000], "labelExpr": "abs(log(datum.value)/LN10 - round(log(datum.value)/LN10)) < 0.001 ? toString(datum.value) : ''", "tickSize": {"condition": {"test": "abs(log(datum.value)/LN10 - round(log(datum.value)/LN10)) < 0.001", "value": 7}, "value": -7}}},
  "y": {"field": "survival", "type": "quantitative", "scale": {"domain": [0, 110], "nice": false},
   "axis": {"title": "Percent of survival", "values": [0,4,8,12,16,20,24,28,32,36,40,44,48,52,56,60,64,68,72,76,80,84,88,92,96,100,104,108], "labelExpr": "datum.value % 20 == 0 ? datum.label : ''", "tickSize": {"condition": {"test": "datum.value % 20 == 0", "value": 7}, "value": -7}}}},
 "layer": [
  {"mark": {"type": "line", "color": "black", "strokeWidth": 3}, "encoding": {"detail": {"field": "series"}}},
  {"transform": [{"filter": "isValid(datum.lo)"}],
   "mark": {"type": "errorbar", "color": "black", "thickness": 2, "ticks": {"size": 9, "thickness": 2}},
   "encoding": {"y": {"field": "lo", "type": "quantitative", "scale": {"domain": [0, 110], "nice": false},
     "axis": {"title": "Percent of survival", "values": [0,4,8,12,16,20,24,28,32,36,40,44,48,52,56,60,64,68,72,76,80,84,88,92,96,100,104,108], "labelExpr": "datum.value % 20 == 0 ? datum.label : ''", "tickSize": {"condition": {"test": "datum.value % 20 == 0", "value": 7}, "value": -7}}},
     "y2": {"field": "hi"}}},
  {"transform": [{"filter": "datum.dose >= 0.1"}], "mark": {"type": "point", "shape": "triangle-down", "size": 420, "filled": true, "opacity": 1, "strokeWidth": 1},
   "encoding": {
     "fill": {"field": "series", "type": "nominal", "scale": {"domain": ["filled", "open"], "range": ["#000000", "#ffffff"]}, "legend": null},
     "stroke": {"field": "series", "type": "nominal", "scale": {"domain": ["filled", "open"], "range": ["#000000", "#808080"]}, "legend": null}}}
 ]},
{"width": 393, "height": 273,
 "transform": [{"filter": "datum.cell == 'INER-37' && datum.drug == 'Camptothecin'"}],
 "encoding": {
  "x": {"field": "dose", "type": "quantitative", "scale": {"type": "log", "domain": [0.07, 1000], "nice": false},
   "axis": {"title": "Camptothecin (µM)", "values": [0.08,0.09,0.1,0.2,0.3,0.4,0.5,0.6,0.7,0.8,0.9,1,2,3,4,5,6,7,8,9,10,20,30,40,50,60,70,80,90,100,200,300,400,500,600,700,800,900,1000], "labelExpr": "abs(log(datum.value)/LN10 - round(log(datum.value)/LN10)) < 0.001 ? toString(datum.value) : ''", "tickSize": {"condition": {"test": "abs(log(datum.value)/LN10 - round(log(datum.value)/LN10)) < 0.001", "value": 7}, "value": -7}}},
  "y": {"field": "survival", "type": "quantitative", "scale": {"domain": [0, 110], "nice": false},
   "axis": {"title": "Percent of survival", "values": [0,4,8,12,16,20,24,28,32,36,40,44,48,52,56,60,64,68,72,76,80,84,88,92,96,100,104,108], "labelExpr": "datum.value % 20 == 0 ? datum.label : ''", "tickSize": {"condition": {"test": "datum.value % 20 == 0", "value": 7}, "value": -7}}}},
 "layer": [
  {"mark": {"type": "line", "color": "black", "strokeWidth": 3}, "encoding": {"detail": {"field": "series"}}},
  {"transform": [{"filter": "isValid(datum.lo)"}],
   "mark": {"type": "errorbar", "color": "black", "thickness": 2, "ticks": {"size": 9, "thickness": 2}},
   "encoding": {"y": {"field": "lo", "type": "quantitative", "scale": {"domain": [0, 110], "nice": false},
     "axis": {"title": "Percent of survival", "values": [0,4,8,12,16,20,24,28,32,36,40,44,48,52,56,60,64,68,72,76,80,84,88,92,96,100,104,108], "labelExpr": "datum.value % 20 == 0 ? datum.label : ''", "tickSize": {"condition": {"test": "datum.value % 20 == 0", "value": 7}, "value": -7}}},
     "y2": {"field": "hi"}}},
  {"transform": [{"filter": "datum.dose >= 0.1"}], "mark": {"type": "point", "shape": "circle", "size": 350, "filled": true, "opacity": 1, "strokeWidth": 1},
   "encoding": {
     "fill": {"field": "series", "type": "nominal", "scale": {"domain": ["filled", "open"], "range": ["#000000", "#ffffff"]}, "legend": null},
     "stroke": {"field": "series", "type": "nominal", "scale": {"domain": ["filled", "open"], "range": ["#000000", "#000000"]}, "legend": null}}}
 ]},
{"width": 393, "height": 273,
 "transform": [{"filter": "datum.cell == 'INER-51' && datum.drug == 'Comptothecin'"}],
 "encoding": {
  "x": {"field": "dose", "type": "quantitative", "scale": {"type": "log", "domain": [0.07, 1000], "nice": false},
   "axis": {"title": "Comptothecin (µM)", "values": [0.08,0.09,0.1,0.2,0.3,0.4,0.5,0.6,0.7,0.8,0.9,1,2,3,4,5,6,7,8,9,10,20,30,40,50,60,70,80,90,100,200,300,400,500,600,700,800,900,1000], "labelExpr": "abs(log(datum.value)/LN10 - round(log(datum.value)/LN10)) < 0.001 ? toString(datum.value) : ''", "tickSize": {"condition": {"test": "abs(log(datum.value)/LN10 - round(log(datum.value)/LN10)) < 0.001", "value": 7}, "value": -7}}},
  "y": {"field": "survival", "type": "quantitative", "scale": {"domain": [0, 110], "nice": false},
   "axis": {"title": "Percent of survival", "values": [0,4,8,12,16,20,24,28,32,36,40,44,48,52,56,60,64,68,72,76,80,84,88,92,96,100,104,108], "labelExpr": "datum.value % 20 == 0 ? datum.label : ''", "tickSize": {"condition": {"test": "datum.value % 20 == 0", "value": 7}, "value": -7}}}},
 "layer": [
  {"mark": {"type": "line", "color": "black", "strokeWidth": 3}, "encoding": {"detail": {"field": "series"}}},
  {"transform": [{"filter": "isValid(datum.lo)"}],
   "mark": {"type": "errorbar", "color": "black", "thickness": 2, "ticks": {"size": 9, "thickness": 2}},
   "encoding": {"y": {"field": "lo", "type": "quantitative", "scale": {"domain": [0, 110], "nice": false},
     "axis": {"title": "Percent of survival", "values": [0,4,8,12,16,20,24,28,32,36,40,44,48,52,56,60,64,68,72,76,80,84,88,92,96,100,104,108], "labelExpr": "datum.value % 20 == 0 ? datum.label : ''", "tickSize": {"condition": {"test": "datum.value % 20 == 0", "value": 7}, "value": -7}}},
     "y2": {"field": "hi"}}},
  {"transform": [{"filter": "datum.dose >= 0.1"}], "mark": {"type": "point", "shape": "triangle-down", "size": 420, "filled": true, "opacity": 1, "strokeWidth": 1},
   "encoding": {
     "fill": {"field": "series", "type": "nominal", "scale": {"domain": ["filled", "open"], "range": ["#000000", "#ffffff"]}, "legend": null},
     "stroke": {"field": "series", "type": "nominal", "scale": {"domain": ["filled", "open"], "range": ["#000000", "#808080"]}, "legend": null}}}
 ]}
],
"config": {
  "view": {"stroke": null},
  "font": "Liberation Sans",
  "axis": {"grid": false, "domainColor": "black", "domainWidth": 3, "tickColor": "black", "tickWidth": 2,
    "labelFont": "Liberation Sans", "labelFontSize": 18, "labelColor": "black", "labelOverlap": false, "labelFlush": false,
    "titleFont": "Liberation Sans", "titleFontSize": 26.5, "titleFontWeight": "normal", "titleColor": "black"},
  "axisX": {"labelPadding": 10, "titlePadding": 16},
  "axisY": {"labelPadding": 10, "titlePadding": 6},
  "title": {"font": "Liberation Sans", "fontSize": 33, "fontWeight": "normal", "color": "black", "anchor": "middle", "frame": "group", "offset": 44}
}
}
